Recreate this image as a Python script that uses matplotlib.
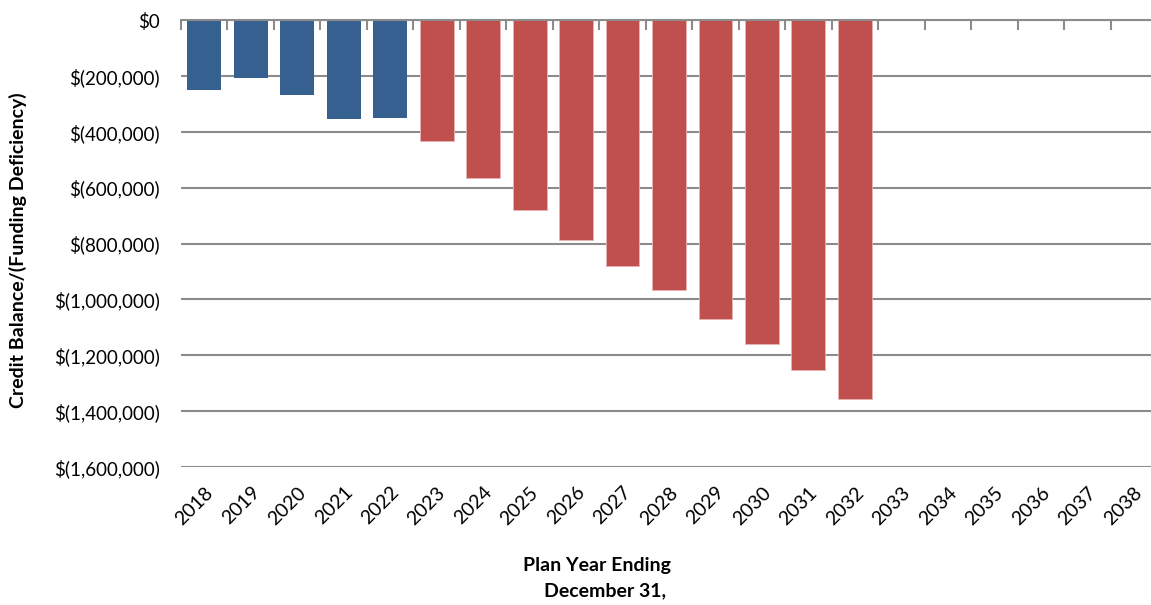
import matplotlib
matplotlib.use("Agg")

import matplotlib.pyplot as plt
from matplotlib.ticker import FuncFormatter, MultipleLocator

# Plan years shown on the axis (bars only through 2032)
years = [str(y) for y in range(2018, 2039)]
actual_years = ["2018", "2019", "2020", "2021", "2022"]
actual_values = [-250000, -206000, -270000, -356000, -352000]
projected_years = ["2023", "2024", "2025", "2026", "2027", "2028", "2029",
                   "2030", "2031", "2032"]
projected_values = [-432000, -566000, -679000, -787000, -881000, -966000,
                    -1070000, -1158000, -1254000, -1358000]

BLUE = "#36608F"
RED = "#C0504D"
GRID = "#8C8C8C"
FONT = "Lato"


def money(v, _pos):
    if v == 0:
        return "$0"
    return f"$({abs(v):,.0f})"


def main():
    fig = plt.figure(figsize=(11.51, 6.05), dpi=100)
    ax = fig.add_axes([181 / 1151, 1 - 467 / 605, 976 / 1151, 447 / 605])

    pos = {y: i for i, y in enumerate(years)}
    ax.bar([pos[y] for y in actual_years], actual_values, width=0.73,
           color=BLUE, zorder=3)
    ax.bar([pos[y] for y in projected_years], projected_values, width=0.73,
           color=RED, edgecolor="#E8B4B3", linewidth=0.6, zorder=3)

    ax.set_xlim(-0.5, len(years) - 0.5)
    ax.set_ylim(-1600000, 0)
    ax.yaxis.set_major_locator(MultipleLocator(200000))
    ax.yaxis.set_major_formatter(FuncFormatter(money))
    ax.grid(axis="y", color=GRID, linewidth=1.5, zorder=0)

    for side in ["left", "right", "bottom"]:
        ax.spines[side].set_visible(False)
    ax.spines["top"].set_color(GRID)
    ax.spines["top"].set_linewidth(1.5)
    ax.spines["top"].set_zorder(4)

    ax.set_xticks(range(len(years)))
    ax.set_xticklabels(years, rotation=45, ha="right", va="top",
                       rotation_mode="anchor", fontsize=14, family=FONT)
    ax.tick_params(axis="x", length=0, pad=12)

    # category boundary ticks on the zero line
    sec = ax.secondary_xaxis("top")
    sec.set_xticks([i - 0.5 for i in range(len(years) + 1)])
    sec.set_xticklabels([])
    sec.tick_params(direction="in", length=7, width=1.5, color=GRID)
    sec.spines["top"].set_visible(False)

    ax.tick_params(axis="y", length=0, pad=15, labelsize=13.5)
    for t in ax.get_yticklabels():
        t.set_family(FONT)

    fig.text(0.016, 1 - 250 / 605, "Credit Balance/(Funding Deficiency)",
             rotation=90, ha="center", va="center", fontsize=14,
             fontweight="bold", family=FONT)
    fig.text(597 / 1151, 1 - 565 / 605, "Plan Year Ending", ha="center",
             va="center", fontsize=14, fontweight="bold", family=FONT)
    fig.text(605 / 1151, 1 - 591 / 605, "December 31,", ha="center",
             va="center", fontsize=14, fontweight="bold", family=FONT)

    fig.savefig("out.png", dpi=100)
    plt.close(fig)


if __name__ == "__main__":
    main()
